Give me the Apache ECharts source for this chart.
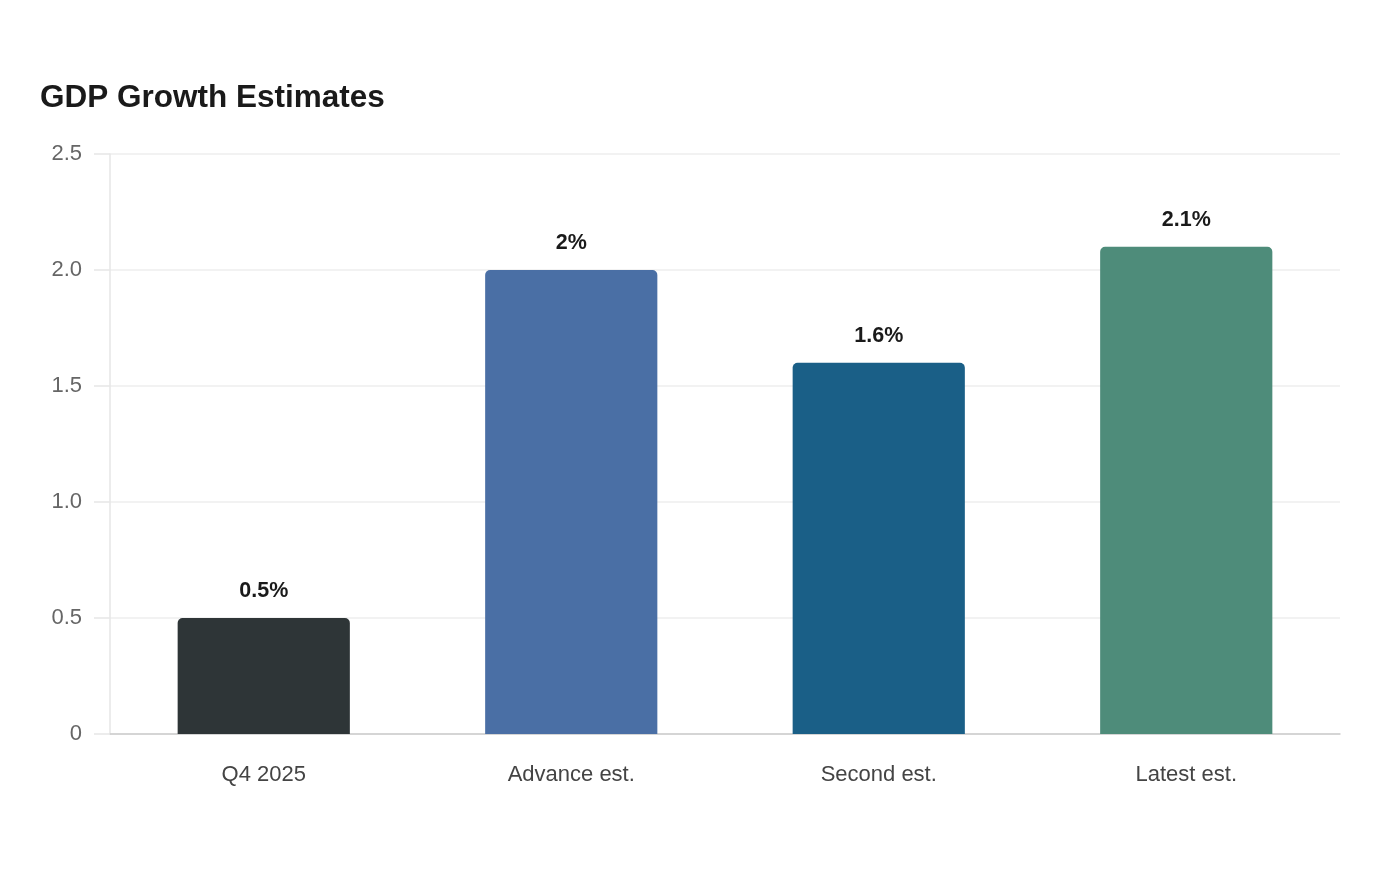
<!DOCTYPE html>
<html>
<head>
<meta charset="utf-8">
<script src="https://cdn.jsdelivr.net/npm/echarts@6/dist/echarts.min.js"></script>
<style>
  html, body { margin: 0; padding: 0; background: #fff; }
  #chart { width: 1400px; height: 880px; }
</style>
</head>
<body>
<div id="chart"></div>
<script>
const categories = ['Q4 2025', 'Advance est.', 'Second est.', 'Latest est.'];
const values = [0.5, 2.0, 1.6, 2.1];
const labels = ['0.5%', '2%', '1.6%', '2.1%'];
const barColors = ['#2e3537', '#4a6fa5', '#1a5f87', '#4e8c7a'];
const yTicks = [0, 0.5, 1.0, 1.5, 2.0, 2.5];

const chart = echarts.init(document.getElementById('chart'));
chart.setOption({
  animation: false,
  title: {
    text: 'GDP Growth Estimates',
    left: 35,
    top: 77,
    textStyle: {
      fontFamily: 'Liberation Sans',
      fontSize: 31.5,
      fontWeight: 'bold',
      color: '#1a1a1a'
    }
  },
  grid: { left: 110, right: 60, top: 154, bottom: 146 },
  xAxis: {
    type: 'category',
    data: categories,
    axisTick: { show: false },
    axisLine: { lineStyle: { color: '#cccccc', width: 1.5 } },
    axisLabel: {
      margin: 30,
      fontFamily: 'Liberation Sans',
      fontSize: 22,
      color: '#444444'
    }
  },
  yAxis: {
    type: 'value',
    min: yTicks[0],
    max: yTicks[yTicks.length - 1],
    interval: 0.5,
    axisLine: { show: true, lineStyle: { color: '#e6e6e6', width: 1.5 } },
    axisTick: { show: true, length: 16, lineStyle: { color: '#e6e6e6', width: 1.5 } },
    splitLine: { lineStyle: { color: '#eeeeee', width: 1.5 } },
    axisLabel: {
      margin: 28,
      fontFamily: 'Liberation Sans',
      fontSize: 22,
      color: '#666666',
      formatter: v => v === 0 ? '0' : v.toFixed(1)
    }
  },
  series: [{
    type: 'bar',
    barWidth: '56%',
    data: values.map((v, i) => ({
      value: v,
      itemStyle: { color: barColors[i], borderRadius: [5, 5, 0, 0] }
    })),
    label: {
      show: true,
      position: 'top',
      distance: 16,
      fontFamily: 'Liberation Sans',
      fontSize: 21.5,
      fontWeight: 'bold',
      color: '#1a1a1a',
      formatter: p => labels[p.dataIndex]
    }
  }]
});
</script>
</body>
</html>
